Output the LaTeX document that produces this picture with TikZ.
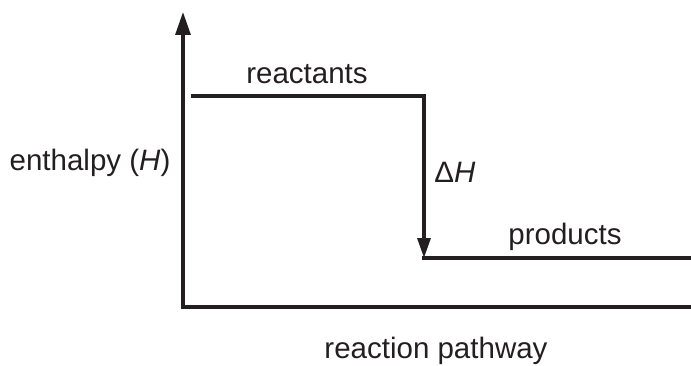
\documentclass[tikz,border=0pt]{standalone}
\usepackage{fontspec}
\setmainfont{Liberation Sans}
\usetikzlibrary{arrows.meta}
\definecolor{ink}{RGB}{35,31,32}
\begin{document}
\begin{tikzpicture}[x=1pt,y=1pt,
  axis/.style={line width=3.2pt, draw=ink, line join=miter},
  lab/.style={font=\fontsize{29.5}{34}\selectfont, text=ink, inner sep=0pt},
  bigtip/.style={-{Triangle[length=23pt,width=15pt]}},
  smalltip/.style={-{Triangle[length=20pt,width=13pt]}}]
\useasboundingbox (0,0) rectangle (691,365);
% axes
\coordinate (O) at (183,58);
\coordinate (Ytop) at (183,353);
\coordinate (Xend) at (691,58);
% enthalpy levels
\coordinate (R1) at (191,269);
\coordinate (R2) at (424,269);
\coordinate (P1) at (424,107);
\coordinate (P2) at (691,107);
\draw[axis,bigtip] (Xend) -- (O) -- (Ytop);
\draw[axis,smalltip] (R1) -- (R2) -- (P1);
\draw[axis] ([xshift=-1.6pt]P1) -- (P2);
% labels
\node[lab] (reac) at (307,291) {reactants};
\node[lab] (dh) at (455,193) {Δ\textit{H}};
\node[lab] (prod) at (565,128) {products};
\node[lab] (ylab) at (90,202) {enthalpy (\textit{H})};
\node[lab] (xlab) at (436,14) {reaction pathway};
\end{tikzpicture}
\end{document}
